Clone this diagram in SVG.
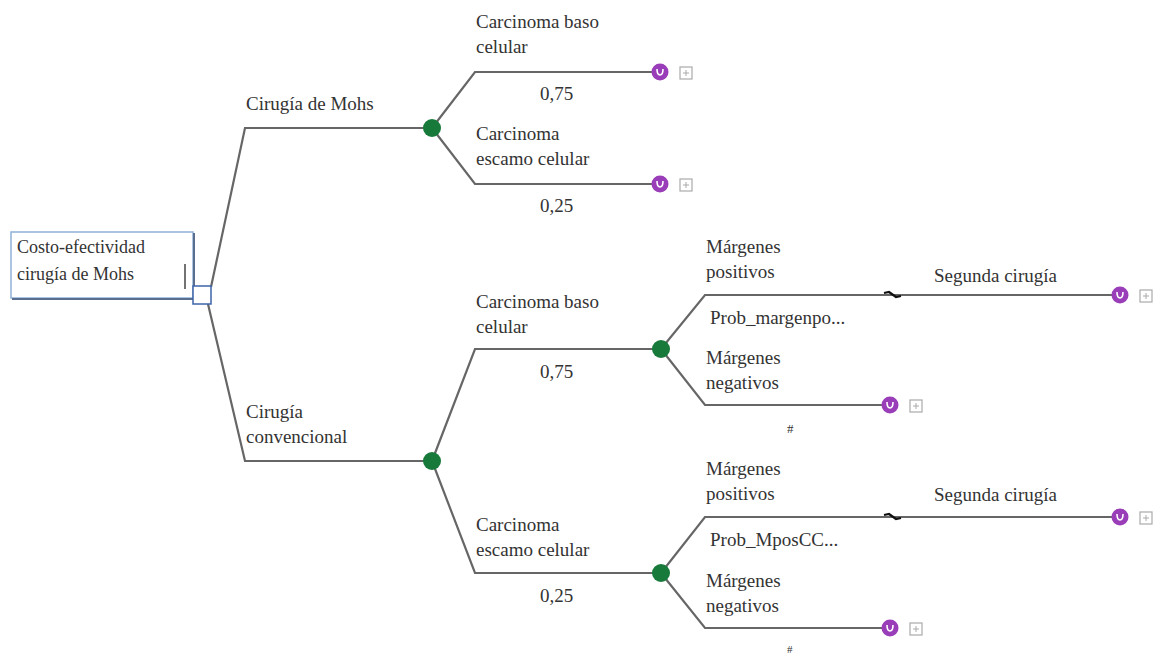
<svg xmlns="http://www.w3.org/2000/svg" width="1153" height="655" viewBox="0 0 1153 655">
<defs>
<style>
text{font-family:"Liberation Serif","DejaVu Serif","Times New Roman",serif;font-size:19px;fill:#333}
.ln{fill:none;stroke:#666;stroke-width:2.2}
.ch{fill:#17793a}
.mk{fill:#9a3db8}
.mu{fill:none;stroke:#fff;stroke-width:1.6}
.pb{fill:#fff;stroke:#aaa;stroke-width:1.2}
.pp{stroke:#aaa;stroke-width:1}
</style>
<g id="term">
<circle cx="0" cy="0" r="8.5" class="mk"/>
<path d="M-3,-3 Q-3,3 0,3 Q3,3 3,-3" class="mu"/>
<rect x="20" y="-5" width="12" height="12" class="pb"/>
<path d="M23,1 H29 M26,-2 V4" class="pp"/>
</g>
</defs>
<rect width="1153" height="655" fill="#fff"/>
<g id="connectors">
<path class="ln" d="M211,287 L245,128 H432"/>
<path class="ln" d="M208,304 L245,461 H432"/>
<path class="ln" d="M432,128 L475,72 H652"/>
<path class="ln" d="M432,128 L475,184 H652"/>
<path class="ln" d="M432,461 L475,349 H661"/>
<path class="ln" d="M432,461 L475,573 H661"/>
<path class="ln" d="M661,349 L705,295 H1112"/>
<path class="ln" d="M661,349 L705,405 H882"/>
<path class="ln" d="M661,573 L705,517 H1112"/>
<path class="ln" d="M661,573 L705,628 H882"/>
<path d="M884,293 L889,292 L896,297 L901,296" fill="none" stroke="#111" stroke-width="2.2"/>
<path d="M884,515 L889,514 L896,519 L901,518" fill="none" stroke="#111" stroke-width="2.2"/>
</g>
<g id="root">
<rect x="11" y="232" width="182" height="66" fill="#fff" stroke="#8fb0d8" stroke-width="1.5"/>
<path d="M12,299 H194 V233" fill="none" stroke="#5a6f8f" stroke-width="2"/>
<text x="17" y="253" style="font-size:18px">Costo-efectividad</text>
<text x="17" y="280" style="font-size:18px">cirugía de Mohs</text>
<line x1="185" y1="264" x2="185" y2="289" stroke="#444" stroke-width="1.5"/>
<rect x="193" y="286" width="18" height="18" fill="#fff" stroke="#3c64a8" stroke-width="1.5"/>
</g>
<g id="mohs">
<text x="246" y="110">Cirugía de Mohs</text>
<circle cx="432" cy="128" r="9" class="ch"/>
</g>
<g id="conv">
<text x="246" y="418">Cirugía</text>
<text x="246" y="443">convencional</text>
<circle cx="432" cy="461" r="9" class="ch"/>
</g>
<g id="mohs-cbc">
<text x="476" y="28">Carcinoma baso</text>
<text x="476" y="53">celular</text>
<text x="540" y="100">0,75</text>
<use href="#term" x="660" y="72"/>
</g>
<g id="mohs-cec">
<text x="476" y="140">Carcinoma</text>
<text x="476" y="165">escamo celular</text>
<text x="540" y="212">0,25</text>
<use href="#term" x="660" y="184"/>
</g>
<g id="conv-cbc">
<text x="476" y="308">Carcinoma baso</text>
<text x="476" y="333">celular</text>
<text x="540" y="378">0,75</text>
<circle cx="661" cy="349" r="9" class="ch"/>
</g>
<g id="conv-cec">
<text x="476" y="531">Carcinoma</text>
<text x="476" y="556">escamo celular</text>
<text x="540" y="602">0,25</text>
<circle cx="661" cy="573" r="9" class="ch"/>
</g>
<g id="cbc-pos">
<text x="706" y="253">Márgenes</text>
<text x="706" y="278">positivos</text>
<text x="710" y="324">Prob_margenpo...</text>
<text x="934" y="282">Segunda cirugía</text>
<use href="#term" x="1120" y="295"/>
</g>
<g id="cbc-neg">
<text x="706" y="364">Márgenes</text>
<text x="706" y="389">negativos</text>
<text x="787" y="433" style="font-size:13px">#</text>
<use href="#term" x="890" y="405"/>
</g>
<g id="cec-pos">
<text x="706" y="475">Márgenes</text>
<text x="706" y="500">positivos</text>
<text x="710" y="546">Prob_MposCC...</text>
<text x="934" y="501">Segunda cirugía</text>
<use href="#term" x="1120" y="517"/>
</g>
<g id="cec-neg">
<text x="706" y="587">Márgenes</text>
<text x="706" y="612">negativos</text>
<text x="787" y="653" style="font-size:11px">#</text>
<use href="#term" x="890" y="628"/>
</g>
</svg>
